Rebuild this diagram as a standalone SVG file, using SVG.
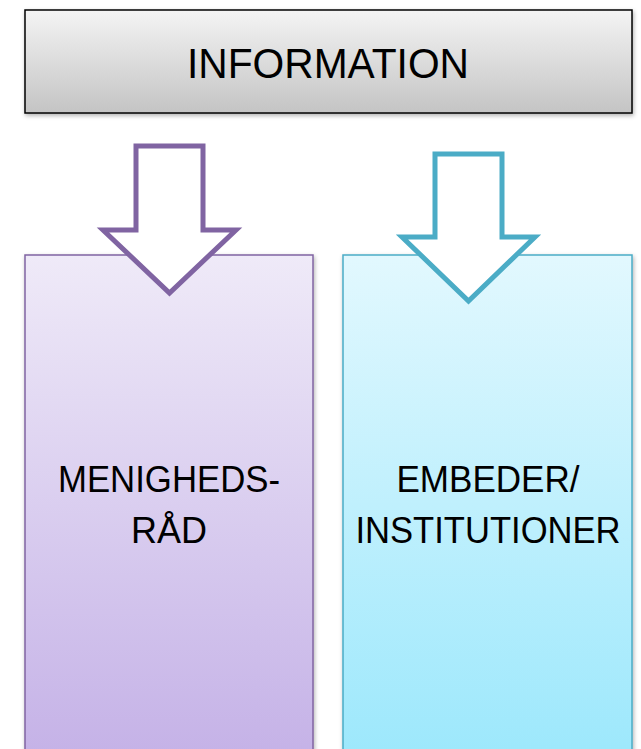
<svg xmlns="http://www.w3.org/2000/svg" width="641" height="749" viewBox="0 0 641 749">
<defs>
<linearGradient id="gGrey" x1="0" y1="0" x2="0" y2="1"><stop offset="0" stop-color="#F4F4F4"/><stop offset="1" stop-color="#C4C4C4"/></linearGradient>
<linearGradient id="gPurple" x1="0" y1="0" x2="0" y2="1"><stop offset="0" stop-color="#EFEAF8"/><stop offset="1" stop-color="#C5B2E7"/></linearGradient>
<linearGradient id="gBlue" x1="0" y1="0" x2="0" y2="1"><stop offset="0" stop-color="#E2F8FE"/><stop offset="1" stop-color="#9DE8FC"/></linearGradient>
<filter id="sh" x="-5%" y="-5%" width="110%" height="115%"><feDropShadow dx="1" dy="2" stdDeviation="2" flood-color="#000" flood-opacity="0.3"/></filter>
</defs>
<style>
text{font-family:"Liberation Sans",Arial,sans-serif;fill:#000;text-anchor:middle}
.t{font-size:42px}
.s{font-size:37px}
.arrow{fill:#FFFFFF;stroke-width:5;stroke-linejoin:miter}
</style>
<rect width="641" height="749" fill="#FFFFFF"/>
<g id="information">
<rect x="25" y="10" width="607" height="103" fill="url(#gGrey)" stroke="#000" stroke-width="1.5" filter="url(#sh)"/>
<text class="t" x="328" y="78" textLength="282" lengthAdjust="spacingAndGlyphs">INFORMATION</text>
</g>
<g id="menighedsraad">
<rect x="25" y="255" width="288" height="500" fill="url(#gPurple)" stroke="#8064A2" stroke-width="1.5" filter="url(#sh)"/>
<text class="s" x="169" y="492" textLength="222" lengthAdjust="spacingAndGlyphs">MENIGHEDS-</text>
<text class="s" x="169" y="543" textLength="76" lengthAdjust="spacingAndGlyphs">RÅD</text>
</g>
<g id="embeder">
<rect x="343" y="255" width="289" height="500" fill="url(#gBlue)" stroke="#4BACC6" stroke-width="1.5" filter="url(#sh)"/>
<text class="s" x="488" y="492" textLength="183" lengthAdjust="spacingAndGlyphs">EMBEDER/</text>
<text class="s" x="488" y="543" textLength="265" lengthAdjust="spacingAndGlyphs">INSTITUTIONER</text>
</g>
<g id="connectors">
<polygon class="arrow" stroke="#8064A2" points="136,146 203,146 203,230 236,230 169.5,293 103,230 136,230"/>
<polygon class="arrow" stroke="#4BACC6" points="435,154 502,154 502,237 535,237 468.5,301 402,237 435,237"/>
</g>
</svg>
